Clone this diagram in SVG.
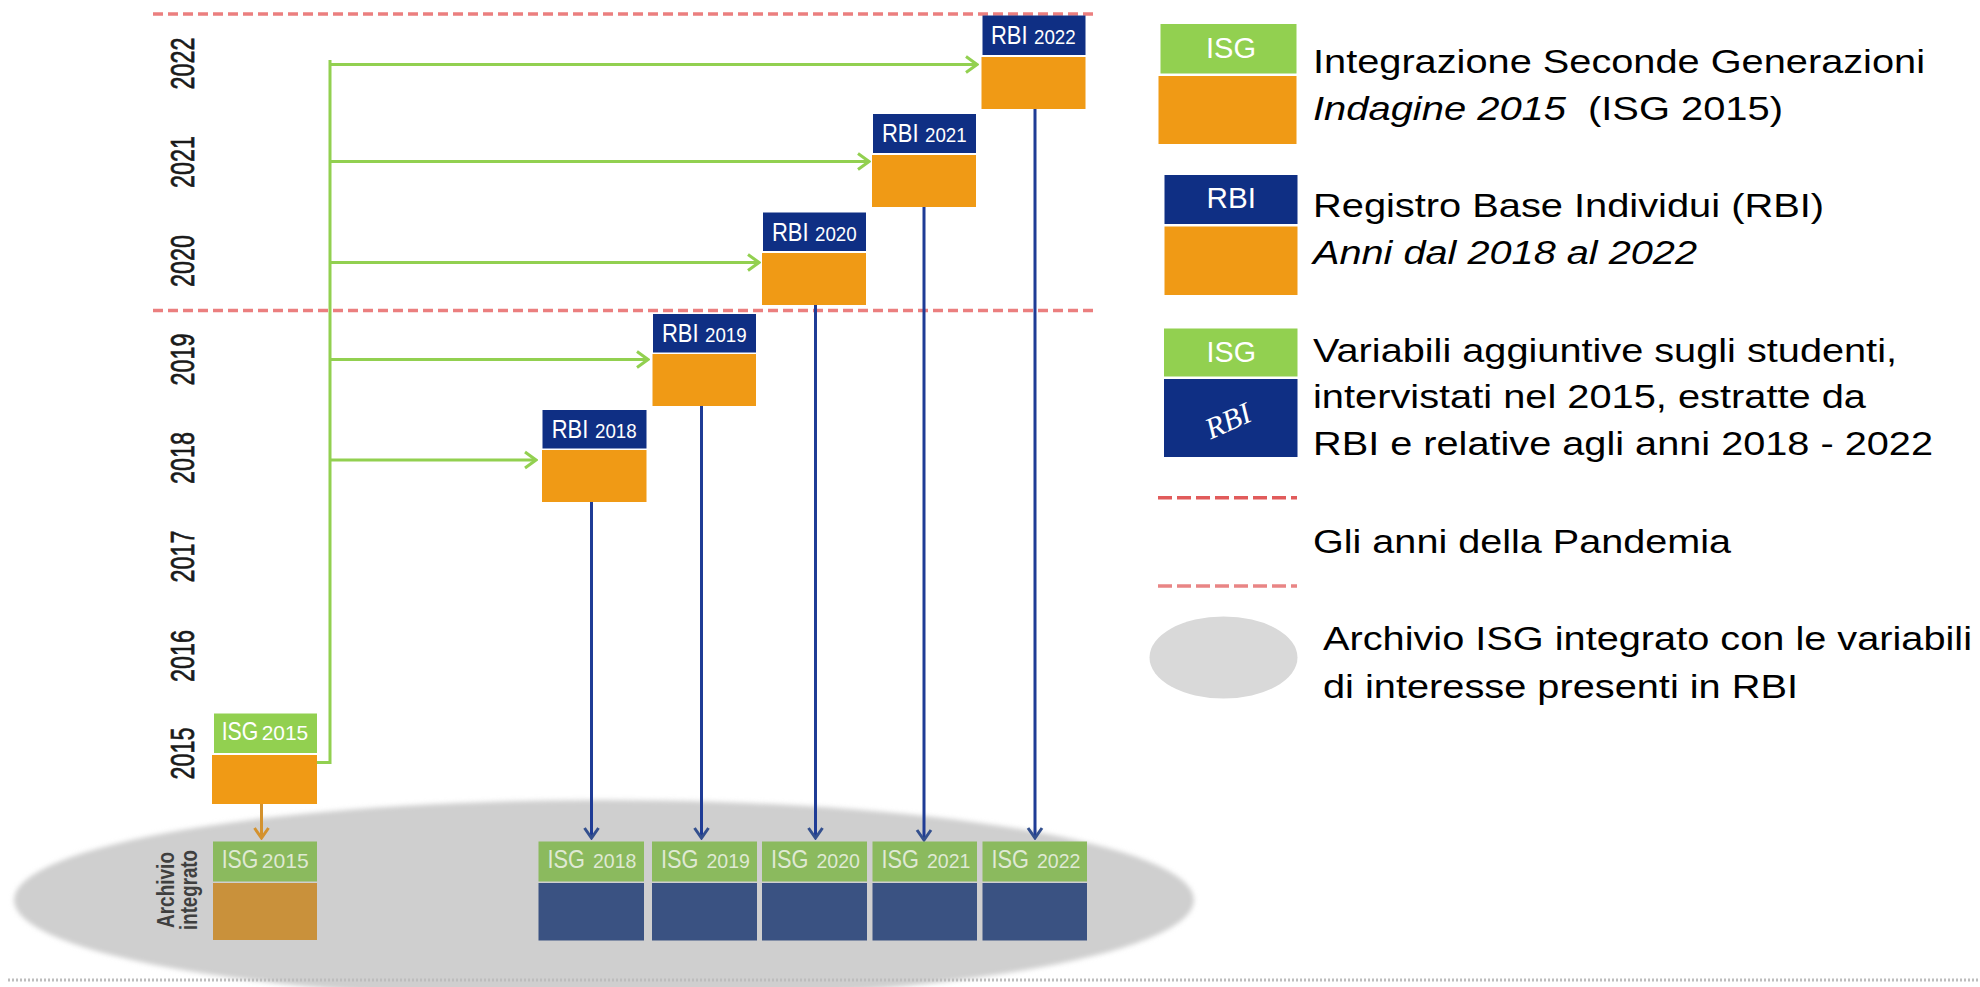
<svg xmlns="http://www.w3.org/2000/svg" width="1980" height="987" viewBox="0 0 1980 987">
<defs>
<style>
.t{font-family:"Liberation Sans",Arial,sans-serif}
.yr{font-family:"Liberation Sans",Arial,sans-serif;font-size:23.4px;fill:#1a1a1a;stroke:#1a1a1a;stroke-width:0.5;text-anchor:middle}
.lg{font-family:"Liberation Sans",Arial,sans-serif;font-size:34px;fill:#000}
.wl{font-family:"Liberation Sans",Arial,sans-serif;fill:#fff}
.al{font-family:"Liberation Sans",Arial,sans-serif;fill:#dfe9d3}
.blue{fill:#0f2f84}
.org{fill:#f09a15}
.grn{fill:#92d050}
.agrn{fill:#8bba5e}
.ablu{fill:#3a5282}
.abrn{fill:#c9913b}
.red{stroke:#eb7f7f;stroke-width:3.5;stroke-dasharray:10 5;fill:none}
.gl{stroke:#92d050;stroke-width:3;fill:none}
.bl{stroke:#1f3c96;stroke-width:3;fill:none}
</style>
<marker id="ag" viewBox="-14 -10 16 20" refX="0" refY="0" markerWidth="16" markerHeight="20" markerUnits="userSpaceOnUse" orient="auto">
<polyline points="-11,-8 0,0 -11,8" fill="none" stroke="#92d050" stroke-width="3"/>
</marker>
<marker id="ab" viewBox="-14 -10 16 20" refX="0" refY="0" markerWidth="16" markerHeight="20" markerUnits="userSpaceOnUse" orient="auto">
<polyline points="-10,-7 0,0 -10,7" fill="none" stroke="#34508e" stroke-width="3"/>
</marker>
<marker id="ao" viewBox="-14 -10 16 20" refX="0" refY="0" markerWidth="16" markerHeight="20" markerUnits="userSpaceOnUse" orient="auto">
<polyline points="-10,-7 0,0 -10,7" fill="none" stroke="#d4922e" stroke-width="3"/>
</marker>
<filter id="soft" x="-5%" y="-20%" width="110%" height="140%"><feGaussianBlur stdDeviation="2.5"/></filter>
</defs>
<rect width="1980" height="987" fill="#fff"/>

<g id="archive-ellipse">
<ellipse cx="604" cy="900" rx="590" ry="100" fill="#cfcfcf" filter="url(#soft)"/>
</g>

<g id="bottom-rule">
<line x1="8" y1="980" x2="1980" y2="980" stroke="#bdbdbd" stroke-width="3" stroke-dasharray="2 2"/>
</g>

<g id="pandemic-lines">
<line class="red" x1="153" y1="14" x2="1096" y2="14"/>
<line class="red" x1="153" y1="310.5" x2="1096" y2="310.5"/>
</g>

<g id="years">
<text class="yr" transform="translate(193.5,63.5) rotate(-90) scale(1,1.45)">2022</text>
<text class="yr" transform="translate(193.5,162) rotate(-90) scale(1,1.45)">2021</text>
<text class="yr" transform="translate(193.5,261) rotate(-90) scale(1,1.45)">2020</text>
<text class="yr" transform="translate(193.5,359.5) rotate(-90) scale(1,1.45)">2019</text>
<text class="yr" transform="translate(193.5,458) rotate(-90) scale(1,1.45)">2018</text>
<text class="yr" transform="translate(193.5,556.5) rotate(-90) scale(1,1.45)">2017</text>
<text class="yr" transform="translate(193.5,656) rotate(-90) scale(1,1.45)">2016</text>
<text class="yr" transform="translate(193.5,753.5) rotate(-90) scale(1,1.45)">2015</text>
</g>

<g id="connectors">
<polyline class="gl" points="317,762.5 330,762.5 330,60"/>
<line class="gl" x1="330" y1="64.5" x2="977" y2="64.5" marker-end="url(#ag)"/>
<line class="gl" x1="330" y1="161.5" x2="869" y2="161.5" marker-end="url(#ag)"/>
<line class="gl" x1="330" y1="262.5" x2="759" y2="262.5" marker-end="url(#ag)"/>
<line class="gl" x1="330" y1="359.5" x2="648" y2="359.5" marker-end="url(#ag)"/>
<line class="gl" x1="330" y1="460" x2="536" y2="460" marker-end="url(#ag)"/>
<line class="bl" x1="591.5" y1="502" x2="591.5" y2="838" marker-end="url(#ab)"/>
<line class="bl" x1="701.5" y1="406" x2="701.5" y2="838" marker-end="url(#ab)"/>
<line class="bl" x1="815.5" y1="304" x2="815.5" y2="838" marker-end="url(#ab)"/>
<line class="bl" x1="924" y1="206" x2="924" y2="840" marker-end="url(#ab)"/>
<line class="bl" x1="1035" y1="108" x2="1035" y2="838" marker-end="url(#ab)"/>
<line x1="261.5" y1="804" x2="261.5" y2="838" stroke="#d4922e" stroke-width="3" marker-end="url(#ao)"/>
</g>

<g id="isg2015">
<rect class="grn" x="214" y="713.5" width="103" height="39.5"/>
<rect class="org" x="212" y="755" width="105" height="49"/>
<text class="wl" x="221.7" y="740" font-size="25" textLength="36.7" lengthAdjust="spacingAndGlyphs">ISG</text>
<text class="wl" x="261.7" y="740" font-size="21" textLength="46.5" lengthAdjust="spacingAndGlyphs">2015</text>
</g>

<g id="rbi2018">
<rect class="blue" x="542.5" y="410" width="104" height="38.5"/>
<rect class="org" x="542" y="450" width="104.5" height="52"/>
<text class="wl" x="551.7" y="438.3" font-size="25" textLength="36.6" lengthAdjust="spacingAndGlyphs">RBI</text>
<text class="wl" x="595" y="438.3" font-size="21" textLength="41.7" lengthAdjust="spacingAndGlyphs">2018</text>
</g>
<g id="rbi2019">
<rect class="blue" x="653" y="314" width="103" height="38.5"/>
<rect class="org" x="652.5" y="354" width="103.5" height="52"/>
<text class="wl" x="662" y="342.3" font-size="25" textLength="36.6" lengthAdjust="spacingAndGlyphs">RBI</text>
<text class="wl" x="705" y="342.3" font-size="21" textLength="41.7" lengthAdjust="spacingAndGlyphs">2019</text>
</g>
<g id="rbi2020">
<rect class="blue" x="763" y="212.5" width="103" height="38.5"/>
<rect class="org" x="762" y="253" width="104" height="52"/>
<text class="wl" x="772" y="240.8" font-size="25" textLength="36.6" lengthAdjust="spacingAndGlyphs">RBI</text>
<text class="wl" x="815" y="240.8" font-size="21" textLength="41.7" lengthAdjust="spacingAndGlyphs">2020</text>
</g>
<g id="rbi2021">
<rect class="blue" x="873" y="114" width="103" height="39"/>
<rect class="org" x="872" y="155" width="104" height="52"/>
<text class="wl" x="882" y="142.3" font-size="25" textLength="36.6" lengthAdjust="spacingAndGlyphs">RBI</text>
<text class="wl" x="925" y="142.3" font-size="21" textLength="41.7" lengthAdjust="spacingAndGlyphs">2021</text>
</g>
<g id="rbi2022">
<rect class="blue" x="982.5" y="15.5" width="103" height="39.5"/>
<rect class="org" x="981.5" y="57" width="104" height="52"/>
<text class="wl" x="991" y="43.5" font-size="25" textLength="36.6" lengthAdjust="spacingAndGlyphs">RBI</text>
<text class="wl" x="1034" y="43.5" font-size="21" textLength="41.7" lengthAdjust="spacingAndGlyphs">2022</text>
</g>

<g id="archive-label">
<text class="t" font-weight="bold" font-size="19" fill="#3f3f3f" text-anchor="middle" transform="translate(173.5,890) rotate(-90) scale(1,1.3)" textLength="76" lengthAdjust="spacingAndGlyphs">Archivio</text>
<text class="t" font-weight="bold" font-size="19" fill="#3f3f3f" text-anchor="middle" transform="translate(196.5,890) rotate(-90) scale(1,1.3)" textLength="80" lengthAdjust="spacingAndGlyphs">integrato</text>
</g>

<g id="archive-isg2015">
<rect class="agrn" x="213" y="841.5" width="104" height="40"/>
<rect class="abrn" x="213" y="883" width="104" height="57"/>
<text class="al" x="221.7" y="868.3" font-size="25" textLength="36.7" lengthAdjust="spacingAndGlyphs">ISG</text>
<text class="al" x="261.7" y="868.3" font-size="21" textLength="47" lengthAdjust="spacingAndGlyphs">2015</text>
</g>
<g id="archive-isg2018">
<rect class="agrn" x="538.5" y="841.5" width="105.5" height="40"/>
<rect class="ablu" x="538.5" y="883" width="105.5" height="57.5"/>
<text class="al" x="547.5" y="868.3" font-size="25" textLength="37.5" lengthAdjust="spacingAndGlyphs">ISG</text>
<text class="al" x="593" y="868.3" font-size="21" textLength="43.5" lengthAdjust="spacingAndGlyphs">2018</text>
</g>
<g id="archive-isg2019">
<rect class="agrn" x="652" y="841.5" width="105" height="40"/>
<rect class="ablu" x="652" y="883" width="105" height="57.5"/>
<text class="al" x="661" y="868.3" font-size="25" textLength="37.5" lengthAdjust="spacingAndGlyphs">ISG</text>
<text class="al" x="706.5" y="868.3" font-size="21" textLength="43.5" lengthAdjust="spacingAndGlyphs">2019</text>
</g>
<g id="archive-isg2020">
<rect class="agrn" x="762" y="841.5" width="105" height="40"/>
<rect class="ablu" x="762" y="883" width="105" height="57.5"/>
<text class="al" x="771" y="868.3" font-size="25" textLength="37.5" lengthAdjust="spacingAndGlyphs">ISG</text>
<text class="al" x="816.5" y="868.3" font-size="21" textLength="43.5" lengthAdjust="spacingAndGlyphs">2020</text>
</g>
<g id="archive-isg2021">
<rect class="agrn" x="872.5" y="841.5" width="104.5" height="40"/>
<rect class="ablu" x="872.5" y="883" width="104.5" height="57.5"/>
<text class="al" x="881.5" y="868.3" font-size="25" textLength="37.5" lengthAdjust="spacingAndGlyphs">ISG</text>
<text class="al" x="927" y="868.3" font-size="21" textLength="43.5" lengthAdjust="spacingAndGlyphs">2021</text>
</g>
<g id="archive-isg2022">
<rect class="agrn" x="982.5" y="841.5" width="104.5" height="40"/>
<rect class="ablu" x="982.5" y="883" width="104.5" height="57.5"/>
<text class="al" x="991.5" y="868.3" font-size="25" textLength="37.5" lengthAdjust="spacingAndGlyphs">ISG</text>
<text class="al" x="1037" y="868.3" font-size="21" textLength="43.5" lengthAdjust="spacingAndGlyphs">2022</text>
</g>

<g id="legend-isg">
<rect class="grn" x="1160.5" y="24" width="136" height="49.5"/>
<rect class="org" x="1158.5" y="76" width="138" height="68"/>
<text class="wl" x="1206" y="58" font-size="30" textLength="50" lengthAdjust="spacingAndGlyphs">ISG</text>
<text class="lg" x="1313" y="73" textLength="612" lengthAdjust="spacingAndGlyphs">Integrazione Seconde Generazioni</text>
<text class="lg" x="1313" y="120" font-style="italic" textLength="253" lengthAdjust="spacingAndGlyphs">Indagine 2015</text>
<text class="lg" x="1588" y="120" textLength="195" lengthAdjust="spacingAndGlyphs">(ISG 2015)</text>
</g>

<g id="legend-rbi">
<rect class="blue" x="1164.5" y="175" width="133" height="49"/>
<rect class="org" x="1164.5" y="226.5" width="133" height="68.5"/>
<text class="wl" x="1206.6" y="208" font-size="30" textLength="49.4" lengthAdjust="spacingAndGlyphs">RBI</text>
<text class="lg" x="1313" y="217" textLength="511" lengthAdjust="spacingAndGlyphs">Registro Base Individui (RBI)</text>
<text class="lg" x="1313" y="264" font-style="italic" textLength="384" lengthAdjust="spacingAndGlyphs">Anni dal 2018 al 2022</text>
</g>

<g id="legend-isg-rbi">
<rect class="grn" x="1164" y="328.5" width="133.5" height="48"/>
<rect class="blue" x="1164" y="379" width="133.5" height="78"/>
<text class="wl" x="1206.6" y="361.7" font-size="30" textLength="49.4" lengthAdjust="spacingAndGlyphs">ISG</text>
<text x="0" y="0" font-family="'Liberation Serif',serif" font-style="italic" font-size="30" fill="#fff" text-anchor="middle" transform="translate(1232,430) rotate(-24)">RBI</text>
<text class="lg" x="1313" y="361.7" textLength="584" lengthAdjust="spacingAndGlyphs">Variabili aggiuntive sugli studenti,</text>
<text class="lg" x="1313" y="408.3" textLength="553" lengthAdjust="spacingAndGlyphs">intervistati nel 2015, estratte da</text>
<text class="lg" x="1313" y="455" textLength="620" lengthAdjust="spacingAndGlyphs">RBI e relative agli anni 2018 - 2022</text>
</g>

<g id="legend-pandemic">
<line x1="1158" y1="497.7" x2="1297" y2="497.7" stroke="#e15b5b" stroke-width="3.5" stroke-dasharray="14 5"/>
<text class="lg" x="1313" y="553" textLength="418" lengthAdjust="spacingAndGlyphs">Gli anni della Pandemia</text>
<line x1="1158" y1="586" x2="1297" y2="586" stroke="#e98585" stroke-width="3.5" stroke-dasharray="14 5"/>
</g>

<g id="legend-archive">
<ellipse cx="1223.5" cy="657.5" rx="74" ry="41" fill="#d9d9d9"/>
<text class="lg" x="1323" y="650" textLength="649" lengthAdjust="spacingAndGlyphs">Archivio ISG integrato con le variabili</text>
<text class="lg" x="1323" y="698" textLength="475" lengthAdjust="spacingAndGlyphs">di interesse presenti in RBI</text>
</g>
</svg>
